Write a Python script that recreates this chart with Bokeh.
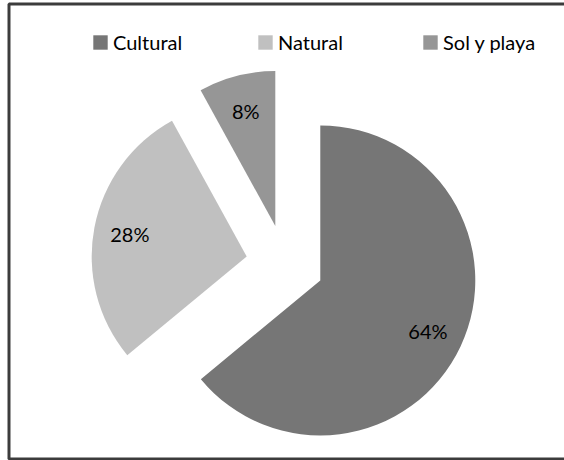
import math
from bokeh.plotting import figure
from bokeh.models import ColumnDataSource, Range1d, BoxAnnotation
from bokeh.core.properties import value
from bokeh.embed import file_html
from bokeh.resources import INLINE

categories = ["Cultural", "Natural", "Sol y playa"]
shares = [64, 28, 8]
labels = ["64%", "28%", "8%"]
colors = ["#767676", "#c0c0c0", "#969696"]

W, H = 564, 460
CX, CY = 284.5, 196.7   # pie centre (pixels from bottom-left)
R = 155                  # radius
D = 39                   # explosion distance
LR = 119                 # label distance from slice apex

total = sum(shares)
starts, ends, xs, ys, lx, ly = [], [], [], [], [], []
cum = 0.0
for s in shares:
    a0 = math.pi / 2 - 2 * math.pi * cum / total
    cum += s
    a1 = math.pi / 2 - 2 * math.pi * cum / total
    mid = (a0 + a1) / 2
    x = CX + D * math.cos(mid)
    y = CY + D * math.sin(mid)
    starts.append(a0)
    ends.append(a1)
    xs.append(x)
    ys.append(y)
    lx.append(x + LR * math.cos(mid))
    ly.append(y + LR * math.sin(mid))

src = ColumnDataSource(dict(cat=categories, start=starts, end=ends, x=xs, y=ys,
                            color=colors, lx=lx, ly=ly, label=labels))

p = figure(width=W, height=H, output_backend="svg", toolbar_location=None,
           x_range=Range1d(0, W), y_range=Range1d(0, H),
           x_axis_type=None, y_axis_type=None, min_border=0)
p.grid.visible = False
p.outline_line_color = None
p.background_fill_color = "white"
p.border_fill_color = "white"

p.wedge(x="x", y="y", radius=R, start_angle="start", end_angle="end",
        direction="clock", fill_color="color", line_color=None,
        legend_field="cat", source=src)

p.text(x="lx", y="ly", text="label", source=src, text_align="center",
       text_baseline="middle", text_font=value("Lato"), text_font_size="20px",
       text_color="#000000")

border = BoxAnnotation(left=8.5, right=W + 50, bottom=1.5, top=H - 3.5,
                       fill_alpha=0, line_color="#3c3c3c", line_alpha=1.0,
                       line_width=3)
p.add_layout(border)

lg = p.legend[0]
lg.orientation = "horizontal"
lg.location = (91, 406)
lg.glyph_width = 18
lg.glyph_height = 18
lg.label_standoff = 4
lg.spacing = 73
lg.padding = 0
lg.margin = 0
lg.border_line_color = None
lg.background_fill_alpha = 0
lg.label_text_font = "Lato"
lg.label_text_font_size = "20px"
lg.label_text_color = "#000000"
lg.label_width = 70

open("out.html", "w").write(file_html(p, INLINE))
